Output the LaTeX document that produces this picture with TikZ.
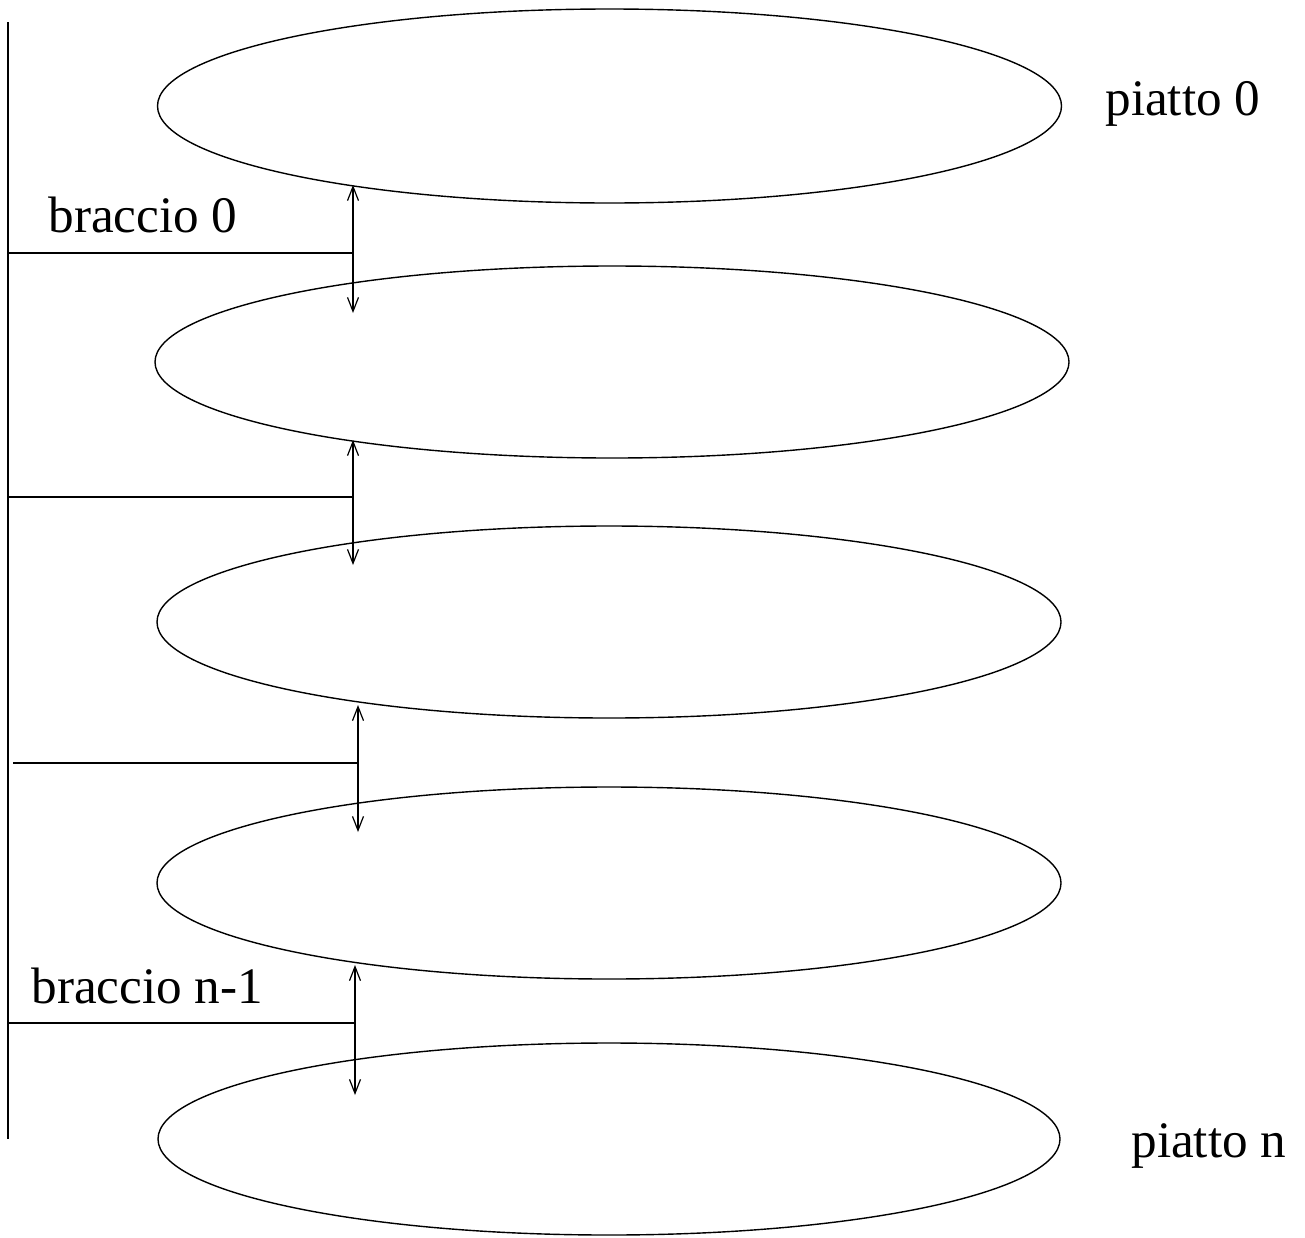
\documentclass[tikz,border=0pt]{standalone}
\usepackage{fontspec}
\setmainfont{Liberation Serif}
\usetikzlibrary{shapes.geometric,arrows.meta}
\begin{document}
\begin{tikzpicture}[x=0.5pt,y=-0.5pt,
  plate/.style={draw,ellipse,inner sep=0pt,line width=0.7pt},
  lbl/.style={anchor=base west,inner sep=0pt,font=\fontsize{25.6}{30}\selectfont},
  gap/.style={line width=0.6pt,{Straight Barb[length=7pt,width=5.5pt]}-{Straight Barb[length=7pt,width=5.5pt]}},
  arm/.style={line width=0.7pt}]
\useasboundingbox (0,0) rectangle (1305,1237);
% plates
\node[plate,minimum width=452pt,minimum height=97pt] (p0) at (609.5,106) {};
\node[plate,minimum width=457pt,minimum height=96pt] (p1) at (612,362) {};
\node[plate,minimum width=452pt,minimum height=96pt] (p2) at (609,622) {};
\node[plate,minimum width=452pt,minimum height=96pt] (p3) at (609,883) {};
\node[plate,minimum width=451pt,minimum height=96pt] (p4) at (609,1139) {};
% spindle
\coordinate (st) at (8,22);
\coordinate (sb) at (8,1139);
\draw[arm] (st) -- (sb);
% gap arrows
\coordinate (a1t) at (353,185); \coordinate (a1b) at (353,313);
\coordinate (a2t) at (353,440); \coordinate (a2b) at (353,565);
\coordinate (a3t) at (358,705); \coordinate (a3b) at (358,832);
\coordinate (a4t) at (355,965); \coordinate (a4b) at (355,1095);
\draw[gap] (a1t) -- (a1b);
\draw[gap] (a2t) -- (a2b);
\draw[gap] (a3t) -- (a3b);
\draw[gap] (a4t) -- (a4b);
% arms
\coordinate (h1l) at (8,253); \coordinate (h1r) at (353,253);
\coordinate (h2l) at (8,497); \coordinate (h2r) at (353,497);
\coordinate (h3l) at (13,763); \coordinate (h3r) at (358,763);
\coordinate (h4l) at (8,1023); \coordinate (h4r) at (355,1023);
\draw[arm] (h1l) -- (h1r);
\draw[arm] (h2l) -- (h2r);
\draw[arm] (h3l) -- (h3r);
\draw[arm] (h4l) -- (h4r);
% labels
\node[lbl] (t0) at (1105,115) {piatto 0};
\node[lbl] (tn) at (1131,1157) {piatto n};
\node[lbl] (b0) at (48,232) {braccio 0};
\node[lbl] (bn) at (31,1003) {braccio n-1};
\end{tikzpicture}
\end{document}
